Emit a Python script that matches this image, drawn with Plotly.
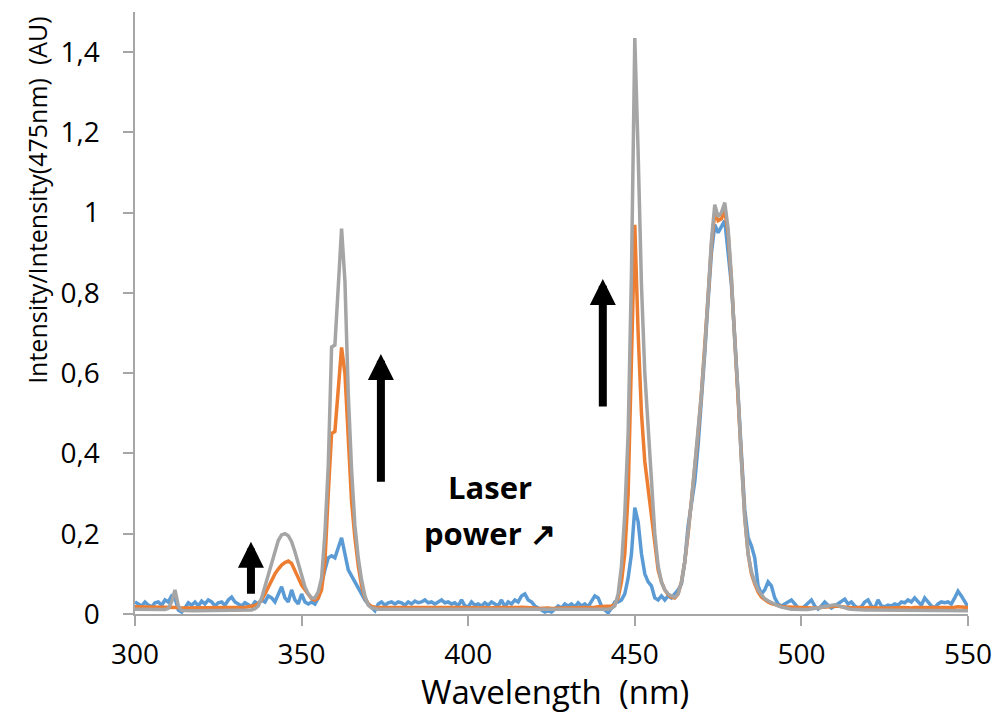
import plotly.graph_objects as go

wavelength = list(range(300, 551))

low_power = [
    0.030, 0.025, 0.020, 0.030, 0.022, 0.018, 0.028, 0.030, 0.022, 0.035,
    0.030, 0.045, 0.040, 0.010, 0.005, 0.015, 0.028, 0.022, 0.030, 0.020,
    0.032, 0.025, 0.035, 0.030, 0.020, 0.028, 0.030, 0.022, 0.035, 0.042,
    0.030, 0.025, 0.020, 0.028, 0.022, 0.018, 0.030, 0.025, 0.035, 0.030,
    0.045, 0.040, 0.030, 0.050, 0.068, 0.040, 0.030, 0.060, 0.035, 0.025,
    0.050, 0.030, 0.025, 0.030, 0.025, 0.040, 0.080, 0.110, 0.140, 0.145,
    0.140, 0.165, 0.190, 0.150, 0.110, 0.095, 0.080, 0.065, 0.050, 0.035,
    0.025, 0.015, 0.008, 0.025, 0.030, 0.022, 0.028, 0.030, 0.025, 0.030,
    0.028, 0.022, 0.030, 0.025, 0.032, 0.028, 0.030, 0.035, 0.028, 0.030,
    0.025, 0.030, 0.035, 0.028, 0.030, 0.025, 0.028, 0.020, 0.035, 0.020,
    0.018, 0.030, 0.022, 0.025, 0.020, 0.028, 0.022, 0.030, 0.025, 0.020,
    0.035, 0.018, 0.030, 0.025, 0.035, 0.030, 0.045, 0.050, 0.035, 0.030,
    0.020, 0.015, 0.010, 0.005, 0.008, 0.005, 0.012, 0.020, 0.015, 0.025,
    0.020, 0.025, 0.018, 0.028, 0.020, 0.025, 0.018, 0.030, 0.045, 0.040,
    0.020, 0.010, 0.003, 0.015, 0.030, 0.030, 0.035, 0.050, 0.090, 0.150,
    0.265, 0.230, 0.150, 0.100, 0.080, 0.070, 0.040, 0.035, 0.045, 0.035,
    0.045, 0.040, 0.050, 0.060, 0.075, 0.130, 0.220, 0.280, 0.330, 0.420,
    0.530, 0.650, 0.780, 0.900, 0.970, 0.950, 0.965, 0.980, 0.900, 0.820,
    0.690, 0.560, 0.400, 0.260, 0.190, 0.170, 0.140, 0.070, 0.050, 0.060,
    0.080, 0.070, 0.040, 0.025, 0.020, 0.025, 0.030, 0.035, 0.025, 0.015,
    0.012, 0.020, 0.030, 0.035, 0.020, 0.012, 0.020, 0.030, 0.022, 0.015,
    0.020, 0.025, 0.030, 0.037, 0.025, 0.030, 0.020, 0.015, 0.018, 0.030,
    0.035, 0.020, 0.015, 0.035, 0.020, 0.018, 0.022, 0.020, 0.025, 0.022,
    0.030, 0.028, 0.035, 0.030, 0.040, 0.030, 0.022, 0.040, 0.030, 0.020,
    0.015, 0.025, 0.030, 0.028, 0.030, 0.025, 0.040, 0.057, 0.045, 0.030,
    0.018,
]

mid_power = [
    0.018, 0.018, 0.017, 0.017, 0.017, 0.017, 0.016, 0.016, 0.016, 0.016,
    0.016, 0.017, 0.018, 0.016, 0.015, 0.015, 0.015, 0.015, 0.015, 0.015,
    0.016, 0.016, 0.015, 0.015, 0.016, 0.016, 0.015, 0.016, 0.016, 0.016,
    0.016, 0.016, 0.017, 0.017, 0.018, 0.019, 0.021, 0.026, 0.035, 0.050,
    0.068, 0.085, 0.100, 0.112, 0.122, 0.128, 0.132, 0.126, 0.110, 0.090,
    0.072, 0.060, 0.048, 0.038, 0.035, 0.040, 0.060, 0.130, 0.300, 0.450,
    0.455, 0.560, 0.664, 0.600, 0.420, 0.280, 0.190, 0.120, 0.070, 0.040,
    0.025, 0.019, 0.017, 0.017, 0.017, 0.018, 0.017, 0.016, 0.017, 0.017,
    0.017, 0.018, 0.017, 0.016, 0.017, 0.018, 0.017, 0.016, 0.017, 0.016,
    0.016, 0.017, 0.016, 0.016, 0.017, 0.016, 0.016, 0.017, 0.016, 0.016,
    0.015, 0.016, 0.016, 0.015, 0.016, 0.016, 0.015, 0.016, 0.015, 0.016,
    0.016, 0.015, 0.016, 0.016, 0.015, 0.016, 0.017, 0.017, 0.016, 0.016,
    0.015, 0.014, 0.015, 0.016, 0.015, 0.014, 0.015, 0.016, 0.015, 0.015,
    0.015, 0.016, 0.015, 0.015, 0.016, 0.015, 0.016, 0.017, 0.017, 0.018,
    0.018, 0.018, 0.019, 0.020, 0.024, 0.040, 0.080, 0.150, 0.300, 0.600,
    0.970, 0.700, 0.500, 0.380, 0.310, 0.250, 0.170, 0.110, 0.080, 0.060,
    0.048, 0.042, 0.040, 0.050, 0.080, 0.130, 0.200, 0.280, 0.370, 0.450,
    0.550, 0.660, 0.790, 0.920, 1.000, 0.980, 0.985, 1.005, 0.950, 0.830,
    0.690, 0.550, 0.380, 0.240, 0.150, 0.100, 0.075, 0.055, 0.042, 0.035,
    0.030, 0.026, 0.023, 0.021, 0.019, 0.018, 0.017, 0.017, 0.016, 0.016,
    0.016, 0.015, 0.016, 0.015, 0.015, 0.016, 0.017, 0.018, 0.019, 0.020,
    0.021, 0.020, 0.018, 0.017, 0.016, 0.016, 0.015, 0.016, 0.015, 0.015,
    0.016, 0.015, 0.016, 0.015, 0.015, 0.016, 0.015, 0.015, 0.016, 0.015,
    0.016, 0.016, 0.015, 0.015, 0.016, 0.016, 0.015, 0.016, 0.017, 0.016,
    0.016, 0.017, 0.016, 0.016, 0.017, 0.016, 0.017, 0.018, 0.017, 0.016,
    0.016,
]

high_power = [
    0.012, 0.012, 0.011, 0.011, 0.011, 0.010, 0.010, 0.010, 0.010, 0.011,
    0.014, 0.030, 0.060, 0.020, 0.009, 0.008, 0.008, 0.008, 0.008, 0.008,
    0.008, 0.008, 0.008, 0.008, 0.008, 0.008, 0.008, 0.008, 0.008, 0.008,
    0.008, 0.008, 0.008, 0.008, 0.009, 0.010, 0.013, 0.020, 0.040, 0.070,
    0.100, 0.130, 0.160, 0.183, 0.197, 0.200, 0.195, 0.180, 0.155, 0.125,
    0.095, 0.068, 0.050, 0.040, 0.040, 0.055, 0.090, 0.200, 0.370, 0.665,
    0.670, 0.820, 0.960, 0.830, 0.550, 0.360, 0.220, 0.140, 0.085, 0.045,
    0.022, 0.015, 0.013, 0.012, 0.012, 0.012, 0.011, 0.011, 0.011, 0.011,
    0.011, 0.011, 0.011, 0.011, 0.011, 0.011, 0.011, 0.011, 0.011, 0.011,
    0.011, 0.011, 0.011, 0.011, 0.010, 0.010, 0.010, 0.010, 0.010, 0.010,
    0.010, 0.010, 0.010, 0.010, 0.010, 0.010, 0.010, 0.010, 0.010, 0.010,
    0.010, 0.010, 0.010, 0.010, 0.010, 0.010, 0.010, 0.010, 0.010, 0.010,
    0.010, 0.010, 0.010, 0.010, 0.010, 0.010, 0.010, 0.010, 0.010, 0.010,
    0.010, 0.010, 0.010, 0.010, 0.010, 0.010, 0.010, 0.010, 0.011, 0.011,
    0.011, 0.011, 0.012, 0.014, 0.020, 0.050, 0.120, 0.250, 0.450, 0.850,
    1.435, 1.150, 0.820, 0.600, 0.460, 0.330, 0.200, 0.120, 0.080, 0.060,
    0.050, 0.045, 0.042, 0.050, 0.080, 0.130, 0.200, 0.280, 0.370, 0.450,
    0.550, 0.660, 0.800, 0.930, 1.020, 0.990, 1.000, 1.025, 0.960, 0.840,
    0.680, 0.550, 0.380, 0.240, 0.150, 0.105, 0.080, 0.060, 0.048, 0.038,
    0.033, 0.028, 0.024, 0.020, 0.017, 0.015, 0.013, 0.012, 0.012, 0.011,
    0.011, 0.011, 0.011, 0.012, 0.013, 0.014, 0.016, 0.018, 0.020, 0.022,
    0.023, 0.021, 0.018, 0.015, 0.013, 0.012, 0.011, 0.011, 0.010, 0.010,
    0.010, 0.010, 0.010, 0.010, 0.010, 0.010, 0.010, 0.010, 0.010, 0.010,
    0.010, 0.010, 0.010, 0.010, 0.009, 0.009, 0.009, 0.009, 0.009, 0.009,
    0.009, 0.009, 0.009, 0.009, 0.009, 0.009, 0.009, 0.009, 0.009, 0.009,
    0.008,
]

series_names = ["Low power", "Medium power", "High power"]
series_colors = ["#5B9BD5", "#ED7D31", "#A5A5A5"]

x_ticks = [300, 350, 400, 450, 500, 550]
y_ticks = [0, 0.2, 0.4, 0.6, 0.8, 1.0, 1.2, 1.4]
y_tick_labels = ["0", "0,2", "0,4", "0,6", "0,8", "1", "1,2", "1,4"]

# arrows: (x, y_tail, y_tip) in data units
arrows = [(334.8, 0.047, 0.180), (373.8, 0.326, 0.648), (440.4, 0.513, 0.835)]

FONT = "Open Sans"
AXIS_COLOR = "#A6A6A6"

fig = go.Figure()
for name, color, vals in zip(series_names, series_colors, [low_power, mid_power, high_power]):
    fig.add_trace(go.Scatter(x=wavelength, y=vals, mode="lines", name=name,
                             line=dict(color=color, width=3.5)))

annotations = []
for ax_, y0, y1 in arrows:
    annotations.append(dict(x=ax_, y=y1, ax=ax_, ay=y0, xref="x", yref="y",
                            axref="x", ayref="y", showarrow=True, arrowhead=2,
                            arrowsize=0.65, arrowwidth=8, arrowcolor="black", text=""))

annotations.append(dict(x=406.5, y=0.316, xref="x", yref="y", text="<b>Laser</b>",
                        xanchor="center", yanchor="middle",
                        showarrow=False, font=dict(family=FONT, size=31, color="black")))
annotations.append(dict(x=406.5, y=0.202, xref="x", yref="y", text="<b>power ↗</b>",
                        xanchor="center", yanchor="middle",
                        showarrow=False, font=dict(family=FONT, size=31, color="black")))
annotations.append(dict(x=-0.1176, y=0.688, xref="paper", yref="paper",
                        xanchor="center", yanchor="middle",
                        text="Intensity/Intensity(475nm)  (AU)", textangle=-90,
                        showarrow=False, font=dict(family=FONT, size=25, color="black")))
annotations.append(dict(x=0.504, y=-0.128, xref="paper", yref="paper",
                        xanchor="center", yanchor="middle",
                        text="Wavelength  (nm)", showarrow=False,
                        font=dict(family=FONT, size=33, color="black")))

fig.update_layout(
    width=997, height=716,
    margin=dict(l=135, r=29, t=12, b=102),
    paper_bgcolor="white", plot_bgcolor="white",
    showlegend=False,
    annotations=annotations,
    font=dict(family=FONT, color="black"),
)
fig.update_xaxes(range=[300, 550], tickvals=x_ticks, ticks="outside", ticklen=10,
                 tickcolor=AXIS_COLOR, tickwidth=1.5, showline=True, linecolor=AXIS_COLOR,
                 linewidth=1.5, showgrid=False, zeroline=False, automargin=False,
                 tickfont=dict(family=FONT, size=28, color="black"), ticklabelstandoff=5)
fig.update_yaxes(range=[0, 1.5], tickvals=y_ticks, ticktext=y_tick_labels, ticks="outside",
                 ticklen=10, tickcolor=AXIS_COLOR, tickwidth=1.5, showline=True,
                 linecolor=AXIS_COLOR, linewidth=1.5, showgrid=False, zeroline=False,
                 automargin=False,
                 tickfont=dict(family=FONT, size=28, color="black"), ticklabelstandoff=18)

fig.write_html("out.html", config={"displayModeBar": False},
               post_script="document.body.style.margin='0px';document.body.style.overflow='hidden';")
